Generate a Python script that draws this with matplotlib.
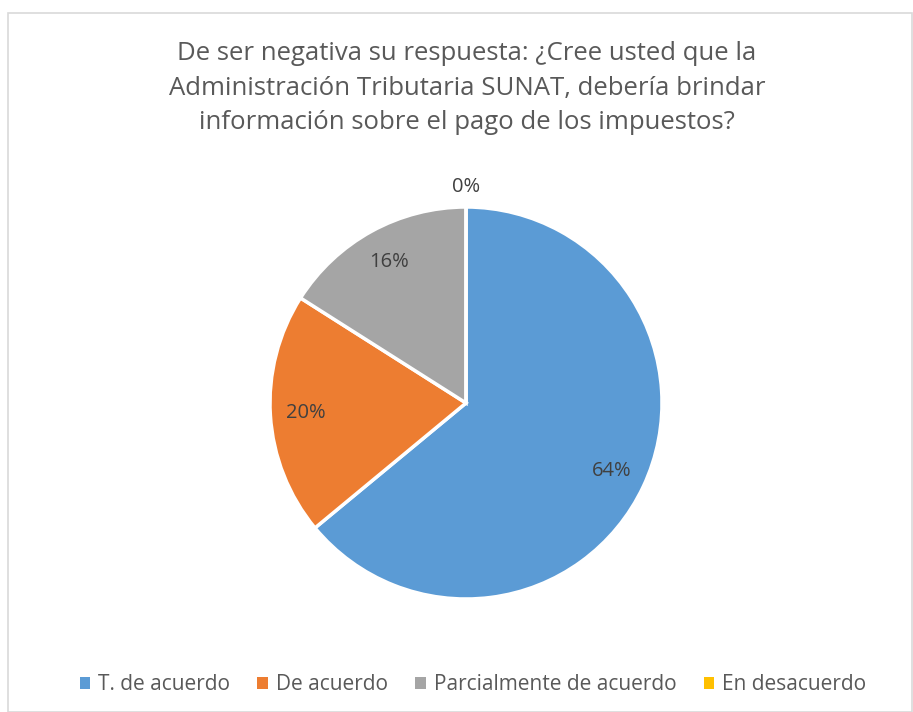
import numpy as np
import matplotlib

matplotlib.use("Agg", force=True)

import matplotlib.pyplot as plt
from matplotlib.patches import Rectangle

categories = ["T. de acuerdo", "De acuerdo", "Parcialmente de acuerdo", "En desacuerdo"]
values = [64, 20, 16, 0]
colors = ["#5B9BD5", "#ED7D31", "#A5A5A5", "#FFC000"]
title = ("De ser negativa su respuesta: ¿Cree usted que la\n"
         "Administración Tributaria SUNAT, debería brindar\n"
         "información sobre el pago de los impuestos?")

plt.rcParams["font.family"] = ["Open Sans", "DejaVu Sans"]
text_color = "#595959"

W, H = 913, 712
fig = plt.figure(figsize=(W / 100, H / 100), dpi=100)

# chart border
fig.patches.append(Rectangle((8 / W, 0), (W - 9) / W, (H - 13) / H,
                             transform=fig.transFigure, fill=False,
                             edgecolor="#D9D9D9", linewidth=1.2))

fig.text(467 / W, 1 - 88 / H, title, ha="center", va="center",
         fontsize=18.5, color=text_color, linespacing=1.5)

cx, cy, r = 466, 403, 196
ax = fig.add_axes([(cx - r) / W, (H - cy - r) / H, 2 * r / W, 2 * r / H])
wedges, _ = ax.pie(values, colors=colors, startangle=90, counterclock=False,
                   wedgeprops=dict(edgecolor="white", linewidth=2.5))
ax.set_xlim(-1, 1)
ax.set_ylim(-1, 1)
ax.set_aspect("equal")
ax.axis("off")

total = float(sum(values))
start = 90.0
for v in values:
    sweep = 360.0 * v / total
    mid = np.deg2rad(start - sweep / 2)
    d = 0.82 if v > 0 else 1.10
    ax.text(d * np.cos(mid), d * np.sin(mid), f"{v}%", ha="center", va="center",
            fontsize=14.5, color="#404040", clip_on=False)
    start -= sweep

leg = fig.legend(wedges, categories, loc="center", bbox_to_anchor=(473 / W, 1 - 685 / H),
                 ncol=4, frameon=False, fontsize=15, handlelength=0.5, handleheight=0.5,
                 handletextpad=0.4, columnspacing=1.3, labelcolor=text_color)
for h in leg.legend_handles:
    h.set_edgecolor("none")

fig.savefig("out.png", dpi=100)
